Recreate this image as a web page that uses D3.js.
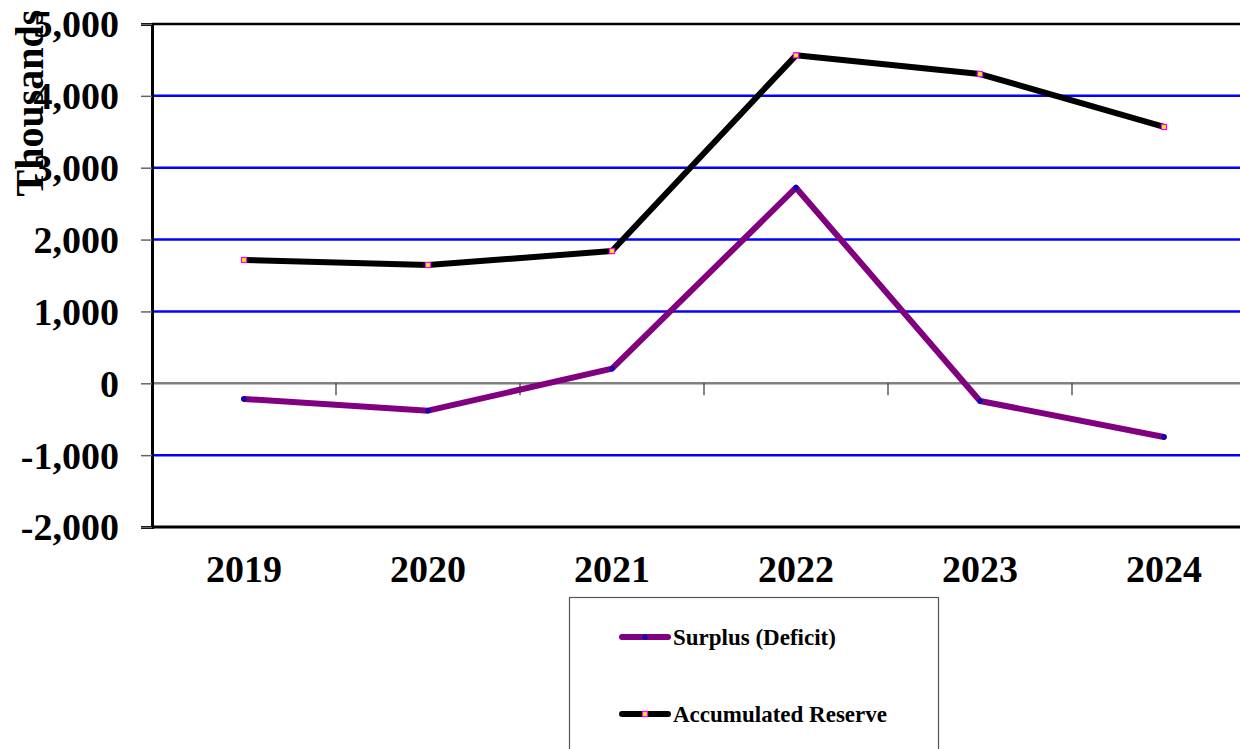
<!DOCTYPE html>
<html>
<head>
<meta charset="utf-8">
<script src="https://cdn.jsdelivr.net/npm/d3@7/dist/d3.min.js"></script>
<style>
  html, body { margin: 0; padding: 0; background: #ffffff; }
  svg { display: block; }
  text { font-family: "Liberation Serif", "Times New Roman", serif; font-weight: bold; fill: #000; }
</style>
</head>
<body>
<svg id="chart" width="1240" height="749"></svg>
<script>
// Fiscal years shown along the horizontal axis
const years = ["2019", "2020", "2021", "2022", "2023", "2024"];
// Yearly surplus or deficit (thousands)
const surplus = [-218, -381, 203, 2722, -246, -747];
// Reserve balance at year end (thousands)
const reserve = [1716, 1646, 1841, 4564, 4304, 3567];
// Value-axis ticks
const yTicks = [-2000, -1000, 0, 1000, 2000, 3000, 4000, 5000];
const seriesNames = ["Surplus (Deficit)", "Accumulated Reserve"];

const svg = d3.select("#chart");
const plot = { left: 152, top: 24, bottom: 527, right: 1256 };

const x = d3.scaleBand().domain(years).range([plot.left, plot.right]).padding(0);
const y = d3.scaleLinear().domain([-2000, 5000]).range([plot.bottom, plot.top]);
// Thousands separator, plain hyphen for negatives
const fmt = v => d3.format(",")(v).replace("\u2212", "-");

// Horizontal gridlines (blue), zero line in grey
const grid = svg.append("g");
grid.selectAll("line")
  .data(yTicks.filter(v => v !== -2000 && v !== 5000))
  .join("line")
  .attr("x1", plot.left).attr("x2", plot.right)
  .attr("y1", d => y(d)).attr("y2", d => y(d))
  .attr("stroke", d => d === 0 ? "#808080" : "#0000ff")
  .attr("stroke-width", 2.5);

// Category dividers hanging below the zero line
svg.append("g").selectAll("line")
  .data(years.slice(1))
  .join("line")
  .attr("x1", d => x(d)).attr("x2", d => x(d))
  .attr("y1", y(0)).attr("y2", y(0) + 12)
  .attr("stroke", "#333").attr("stroke-width", 1.2);

// Plot frame: top border and bottom axis
svg.append("line").attr("x1", plot.left).attr("x2", plot.right)
  .attr("y1", plot.top).attr("y2", plot.top).attr("stroke", "#000").attr("stroke-width", 2.5);
svg.append("line").attr("x1", plot.left).attr("x2", plot.right)
  .attr("y1", plot.bottom).attr("y2", plot.bottom).attr("stroke", "#000").attr("stroke-width", 3);

// Left value axis
const yAxis = d3.axisLeft(y).tickValues(yTicks).tickFormat(fmt).tickSize(11).tickPadding(22);
const ya = svg.append("g").attr("transform", `translate(${plot.left},0)`).call(yAxis);
ya.select(".domain").attr("stroke", "#000").attr("stroke-width", 3);
ya.selectAll(".tick line").attr("stroke", "#666").attr("stroke-width", 1.5);
ya.selectAll(".tick text")
  .attr("font-size", 38).attr("font-family", "Liberation Serif, serif")
  .attr("font-weight", "bold").attr("fill", "#000").attr("dy", "0.34em");

// Category axis labels
const xAxis = d3.axisBottom(x).tickSize(0).tickPadding(0);
const xa = svg.append("g").attr("transform", `translate(0,${plot.bottom})`).call(xAxis);
xa.select(".domain").remove();
xa.selectAll(".tick text")
  .attr("font-size", 38).attr("font-family", "Liberation Serif, serif")
  .attr("font-weight", "bold").attr("fill", "#000")
  .attr("y", 55).attr("dy", 0);

// Series lines
const line = d3.line().x((d, i) => x(years[i]) + x.bandwidth() / 2).y(d => y(d));
const series = [
  { name: seriesNames[0], values: surplus, color: "#800080" },
  { name: seriesNames[1], values: reserve, color: "#000000" }
];
series.forEach(s => {
  svg.append("path").datum(s.values)
    .attr("d", line)
    .attr("fill", "none")
    .attr("stroke", s.color)
    .attr("stroke-width", 6)
    .attr("stroke-linejoin", "round")
    .attr("stroke-linecap", "round");
});

// Point markers
svg.append("g").selectAll("circle").data(surplus).join("circle")
  .attr("cx", (d, i) => x(years[i]) + x.bandwidth() / 2)
  .attr("cy", d => y(d)).attr("r", 2.2)
  .attr("fill", "#0000ff").attr("stroke", "#000080").attr("stroke-width", 1);
svg.append("g").selectAll("rect").data(reserve).join("rect")
  .attr("x", (d, i) => x(years[i]) + x.bandwidth() / 2 - 2.5)
  .attr("y", d => y(d) - 2.5).attr("width", 5).attr("height", 5)
  .attr("fill", "#ffff00").attr("stroke", "#ff00ff").attr("stroke-width", 1.3);

// Value axis title
svg.append("text")
  .attr("transform", "translate(43,103) rotate(-90)")
  .attr("text-anchor", "middle")
  .attr("font-size", 40)
  .text("Thousands");

// Legend
const lg = svg.append("g");
lg.append("rect").attr("x", 569.5).attr("y", 597.5).attr("width", 369).attr("height", 170)
  .attr("fill", "#ffffff").attr("stroke", "#555").attr("stroke-width", 1.2);
const legendRows = [
  { name: seriesNames[0], color: "#800080", cy: 637, marker: "circle" },
  { name: seriesNames[1], color: "#000000", cy: 714, marker: "rect" }
];
legendRows.forEach(r => {
  lg.append("line").attr("x1", 622).attr("x2", 668).attr("y1", r.cy).attr("y2", r.cy)
    .attr("stroke", r.color).attr("stroke-width", 6).attr("stroke-linecap", "round");
  if (r.marker === "circle") {
    lg.append("circle").attr("cx", 645).attr("cy", r.cy).attr("r", 2.2)
      .attr("fill", "#0000ff").attr("stroke", "#000080").attr("stroke-width", 1);
  } else {
    lg.append("rect").attr("x", 642.5).attr("y", r.cy - 2.5).attr("width", 5).attr("height", 5)
      .attr("fill", "#ffff00").attr("stroke", "#ff00ff").attr("stroke-width", 1.3);
  }
  lg.append("text").attr("x", 673).attr("y", r.cy + 7.5)
    .attr("font-size", 23).text(r.name);
});
</script>
</body>
</html>
